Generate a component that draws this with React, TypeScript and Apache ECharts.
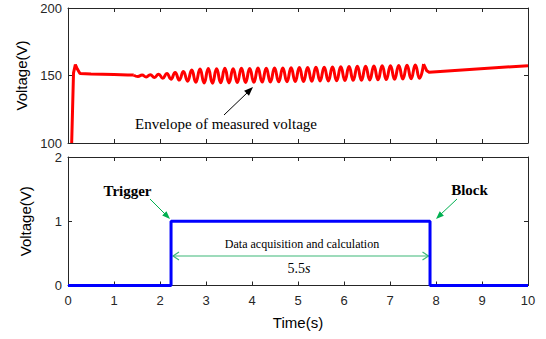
import React, { useEffect, useRef } from "react";
import * as echarts from "echarts";

// ---- data ----
const startTime = [0.08, 0.12, 0.16, 0.2, 0.26, 0.5, 1.0, 1.3, 1.43];
const startVolt = [100, 152, 158, 155, 151.5, 151.2, 150.8, 150.3, 150.3];

const envTime = [
  1.43, 1.52, 1.61, 1.7, 1.79, 1.88, 1.97, 2.06, 2.15, 2.24, 2.33, 2.42, 2.51, 2.6, 2.69, 2.78,
  2.87, 2.96, 3.05, 3.14, 3.23, 3.32, 3.41, 3.5, 3.59, 3.68, 3.77, 3.86, 3.95, 4.04, 4.13, 4.22,
  4.31, 4.4, 4.49, 4.58, 4.67, 4.76, 4.85, 4.94, 5.03, 5.12, 5.21, 5.3, 5.39, 5.48, 5.57, 5.66,
  5.75, 5.84, 5.93, 6.02, 6.11, 6.2, 6.29, 6.38, 6.47, 6.56, 6.65, 6.74, 6.83, 6.92, 7.01, 7.1,
  7.19, 7.28, 7.37, 7.46, 7.55, 7.64, 7.73,
];
const envVolt = [
  150.3, 149.2, 150.4, 148.9, 150.6, 148.5, 151.0, 148.0, 151.5, 147.3, 152.3, 146.6, 153.0, 145.8, 154.0, 145.0,
  154.8, 144.5, 155.2, 144.3, 155.0, 144.6, 155.3, 144.5, 155.0, 144.8, 155.4, 144.9, 155.2, 145.0, 155.5, 145.1,
  155.3, 145.2, 155.6, 145.3, 155.5, 145.4, 155.8, 145.5, 155.9, 145.6, 156.0, 145.8, 156.1, 145.9, 156.2, 146.0,
  156.3, 146.1, 156.5, 146.3, 156.6, 146.4, 156.8, 146.5, 156.9, 146.7, 157.0, 146.8, 157.2, 147.0, 157.3, 147.2,
  157.5, 147.4, 157.6, 147.6, 157.8, 148.0, 158.5,
];
const endTime = [7.73, 7.8, 7.85, 10];
const endVolt = [158.5, 153.5, 152.4, 157.3];

const triggerTime = 2.24;
const blockTime = 7.87;
const stepTime = [0, triggerTime, triggerTime, blockTime, blockTime, 10];
const stepVolt = [0, 0, 1, 1, 0, 0];

const xTicks = [0, 1, 2, 3, 4, 5, 6, 7, 8, 9, 10];
const topYTicks = [100, 150, 200];
const botYTicks = [0, 1, 2];

const zip = (a: number[], b: number[]) => a.map((v, i) => [v, b[i]]);

const AX = "#262626";
const RED = "#ff0000";
const BLUE = "#0000ff";
const GREEN = "#00b050";
const LGREEN = "#3cb878";

function xAx(grid: number, pos: "bottom" | "top", labels: boolean, name?: string) {
  return {
    type: "value",
    gridIndex: grid,
    position: pos,
    min: xTicks[0],
    max: xTicks[xTicks.length - 1],
    interval: 1,
    name: name,
    nameLocation: "middle",
    nameGap: 29,
    nameTextStyle: { fontFamily: "Liberation Sans, Arial", fontSize: 15, color: "#000" },
    axisLine: { show: true, onZero: false, lineStyle: { color: AX, width: 1 } },
    axisTick: { show: true, inside: true, length: 4, lineStyle: { color: AX } },
    axisLabel: {
      show: labels,
      margin: 8,
      fontFamily: "Liberation Sans, Arial",
      fontSize: 13,
      color: AX,
    },
    splitLine: { show: false },
  };
}

function yAx(grid: number, pos: "left" | "right", ticks: number[], labels: boolean) {
  return {
    type: "value",
    gridIndex: grid,
    position: pos,
    min: ticks[0],
    max: ticks[ticks.length - 1],
    interval: ticks[1] - ticks[0],
    name: pos === "left" ? "Voltage(V)" : undefined,
    nameLocation: "middle",
    nameGap: 35,
    nameRotate: 90,
    nameTextStyle: { fontFamily: "Liberation Sans, Arial", fontSize: 15, color: "#000" },
    axisLine: { show: true, onZero: false, lineStyle: { color: AX, width: 1 } },
    axisTick: { show: true, inside: true, length: 4, lineStyle: { color: AX } },
    axisLabel: {
      show: labels,
      margin: 6,
      fontFamily: "Liberation Sans, Arial",
      fontSize: 13,
      color: AX,
    },
    splitLine: { show: false },
  };
}

function arrowHead(tip: number[], from: number[], len: number, half: number) {
  const dx = tip[0] - from[0];
  const dy = tip[1] - from[1];
  const L = Math.hypot(dx, dy);
  const ux = dx / L, uy = dy / L;
  const bx = tip[0] - ux * len, by = tip[1] - uy * len;
  const nx = -uy * half, ny = ux * half;
  return [tip, [bx + nx, by + ny], [bx - nx, by - ny]];
}

export default function App() {
  const ref = useRef<HTMLDivElement>(null);
  useEffect(() => {
    if (!ref.current) return;
    const chart = echarts.init(ref.current, null, { renderer: "svg" });

    const blackFrom = [224, 115], blackTip = [253, 87];
    const trigFrom = [150, 199], trigTip = [170, 219];
    const blockFrom = [457, 199], blockTip = [436, 219];
    const dblY = 256, dblL = 173, dblR = 428.5;

    const serif = "Liberation Serif, Times New Roman, serif";

    chart.setOption({
      animation: false,
      backgroundColor: "#fff",
      grid: [
        { left: 68, right: 18, top: 8, height: 135 },
        { left: 68, right: 18, top: 157, height: 128.5 },
      ],
      xAxis: [
        xAx(0, "bottom", false),
        xAx(0, "top", false),
        xAx(1, "bottom", true, "Time(s)"),
        xAx(1, "top", false),
      ],
      yAxis: [
        yAx(0, "left", topYTicks, true),
        yAx(0, "right", topYTicks, false),
        yAx(1, "left", botYTicks, true),
        yAx(1, "right", botYTicks, false),
      ],
      series: [
        {
          type: "line",
          xAxisIndex: 0,
          yAxisIndex: 0,
          data: zip(startTime, startVolt),
          showSymbol: false,
          lineStyle: { color: RED, width: 3 },
          clip: true,
        },
        {
          type: "line",
          xAxisIndex: 0,
          yAxisIndex: 0,
          data: zip(envTime, envVolt),
          showSymbol: false,
          smooth: 0.5,
          smoothMonotone: "x",
          lineStyle: { color: RED, width: 3 },
          clip: true,
        },
        {
          type: "line",
          xAxisIndex: 0,
          yAxisIndex: 0,
          data: zip(endTime, endVolt),
          showSymbol: false,
          lineStyle: { color: RED, width: 3, join: "round" },
          clip: true,
        },
        {
          type: "line",
          xAxisIndex: 2,
          yAxisIndex: 2,
          data: zip(stepTime, stepVolt),
          showSymbol: false,
          lineStyle: { color: BLUE, width: 3 },
          clip: false,
        },
      ],
      graphic: [
        {
          type: "text",
          x: 226,
          y: 124,
          style: {
            text: "Envelope of measured voltage",
            font: `15px ${serif}`,
            fill: "#000",
            align: "center",
            verticalAlign: "middle",
          },
        },
        {
          type: "line",
          shape: { x1: blackFrom[0], y1: blackFrom[1], x2: blackTip[0] - 5, y2: blackTip[1] + 5 },
          style: { stroke: "#000", lineWidth: 1 },
        },
        {
          type: "polygon",
          shape: { points: arrowHead(blackTip, blackFrom, 9, 3.5) },
          style: { fill: "#000" },
        },
        {
          type: "text",
          x: 127.5,
          y: 191,
          style: {
            text: "Trigger",
            font: `bold 15px ${serif}`,
            fill: "#000",
            align: "center",
            verticalAlign: "middle",
          },
        },
        {
          type: "line",
          shape: { x1: trigFrom[0], y1: trigFrom[1], x2: trigTip[0] - 4, y2: trigTip[1] - 4 },
          style: { stroke: GREEN, lineWidth: 1 },
        },
        {
          type: "polygon",
          shape: { points: arrowHead(trigTip, trigFrom, 8, 3) },
          style: { fill: GREEN },
        },
        {
          type: "text",
          x: 469.5,
          y: 190,
          style: {
            text: "Block",
            font: `bold 15px ${serif}`,
            fill: "#000",
            align: "center",
            verticalAlign: "middle",
          },
        },
        {
          type: "line",
          shape: { x1: blockFrom[0], y1: blockFrom[1], x2: blockTip[0] + 4, y2: blockTip[1] - 4 },
          style: { stroke: GREEN, lineWidth: 1 },
        },
        {
          type: "polygon",
          shape: { points: arrowHead(blockTip, blockFrom, 8, 3) },
          style: { fill: GREEN },
        },
        {
          type: "line",
          shape: { x1: dblL, y1: dblY, x2: dblR, y2: dblY },
          style: { stroke: LGREEN, lineWidth: 1.2 },
        },
        {
          type: "polyline",
          shape: { points: [[dblL + 6, dblY - 4], [dblL, dblY], [dblL + 6, dblY + 4]] },
          style: { stroke: LGREEN, lineWidth: 1.2, fill: "none" },
        },
        {
          type: "polyline",
          shape: { points: [[dblR - 6, dblY - 4], [dblR, dblY], [dblR - 6, dblY + 4]] },
          style: { stroke: LGREEN, lineWidth: 1.2, fill: "none" },
        },
        {
          type: "text",
          x: 302,
          y: 243.5,
          style: {
            text: "Data acquisition and calculation",
            font: `12px ${serif}`,
            fill: "#000",
            align: "center",
            verticalAlign: "middle",
          },
        },
        {
          type: "text",
          x: 305,
          y: 268,
          style: {
            text: "5.5",
            font: `14px ${serif}`,
            fill: "#000",
            align: "right",
            verticalAlign: "middle",
          },
        },
        {
          type: "text",
          x: 305,
          y: 268,
          style: {
            text: "s",
            font: `italic 14px ${serif}`,
            fill: "#000",
            align: "left",
            verticalAlign: "middle",
          },
        },
      ],
    });
    return () => chart.dispose();
  }, []);
  return (
    <div
      ref={ref}
      style={{ width: 546, height: 339, position: "absolute", left: 0, top: 0, background: "#fff" }}
    />
  );
}
